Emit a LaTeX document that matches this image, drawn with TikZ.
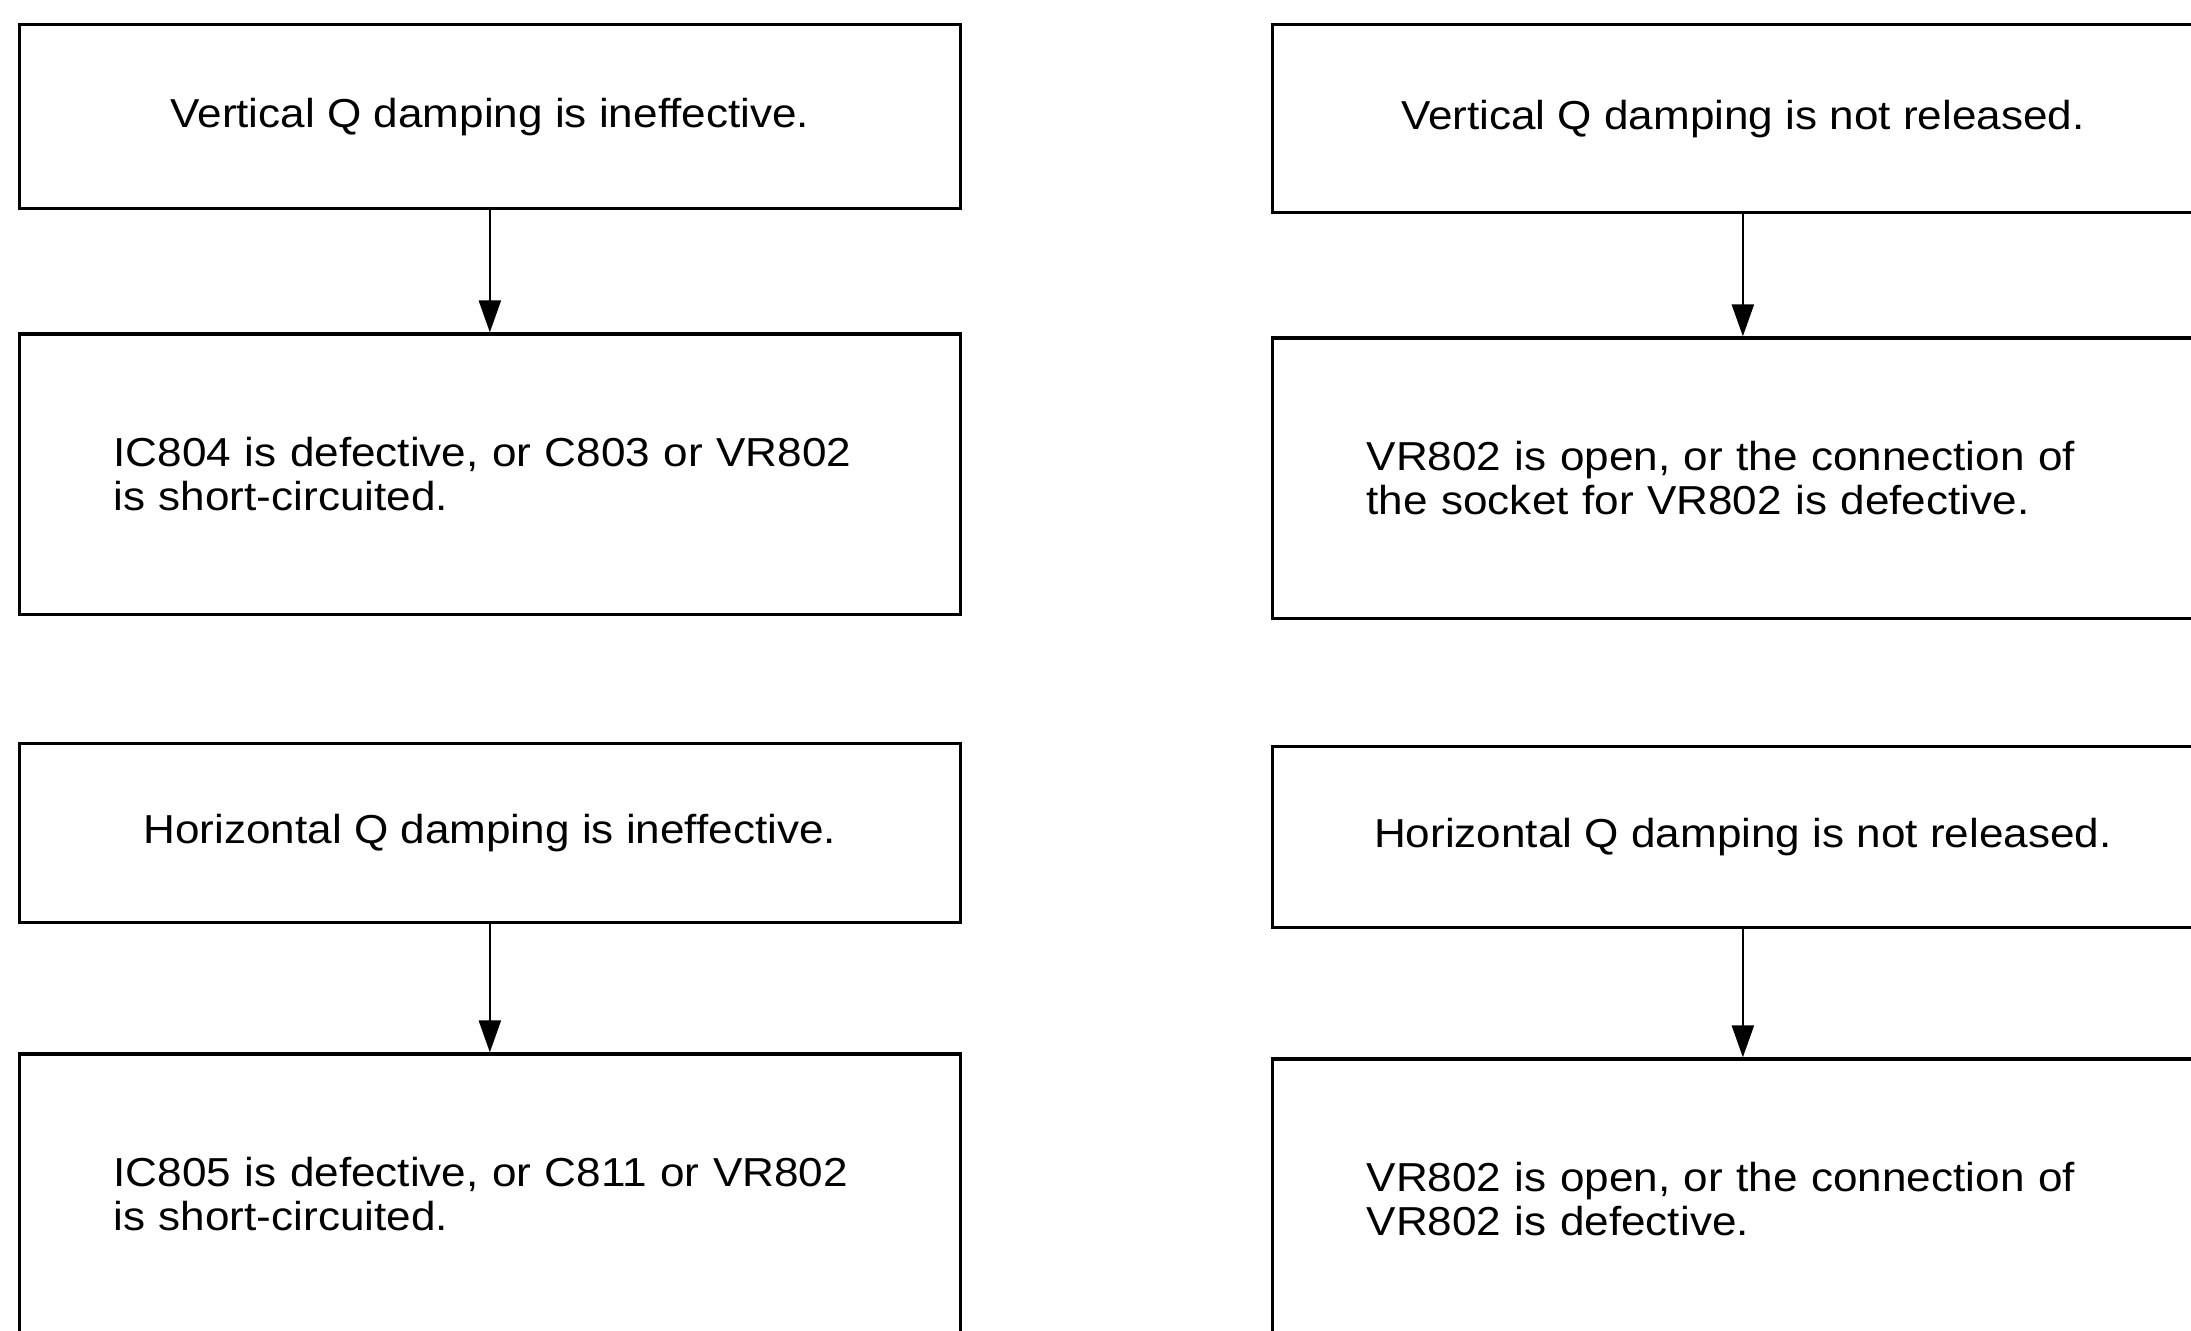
\documentclass[tikz,border=0pt]{standalone}
\usepackage{fontspec}
\setmainfont[FakeStretch=1.09]{Liberation Sans}
\usetikzlibrary{arrows.meta,positioning}

\begin{document}
\begin{tikzpicture}[x=0.01cm, y=-0.01cm,
        every node/.style={font=\fontsize{11.5}{12.3}\selectfont},
        topbox/.style={draw, rectangle, line width=0.9pt, minimum width=9.4cm, minimum height=1.84cm, align=center, inner sep=0pt},
        causebox/.style={draw, rectangle, line width=0.9pt, text width=7.52cm, inner xsep=0.94cm, minimum height=2.8cm, align=left},
        flow/.style={line width=0.7pt, -{Triangle[length=3.2mm, width=2.2mm]}}
      ]
        % feste Bildgroesse (Kaesten laufen rechts und unten ueber den Rand)
        \useasboundingbox (0,0) rectangle (2191,1330);

        % linke Spalte
        \node[topbox, anchor=north west] (vq1) at (18,23) {Vertical Q damping is ineffective.};
        \node[causebox, below=1.22cm of vq1] (vq2) {IC804 is defective, or C803 or VR802\\is short-circuited.};
        \node[topbox, anchor=north west, minimum height=1.79cm] (hq1) at (18,742) {Horizontal Q damping is ineffective.};
        \node[causebox, below=1.28cm of hq1] (hq2) {IC805 is defective, or C811 or VR802\\is short-circuited.};

        % rechte Spalte
        \node[topbox, anchor=north west, minimum height=1.88cm] (vr1) at (1271,23) {Vertical Q damping is not released.};
        \node[causebox, below=1.22cm of vr1] (vr2) {VR802 is open, or the connection of\\the socket for VR802 is defective.};
        \node[topbox, anchor=north west, minimum height=1.81cm] (hr1) at (1271,745) {Horizontal Q damping is not released.};
        \node[causebox, below=1.28cm of hr1] (hr2) {VR802 is open, or the connection of\\VR802 is defective.};

        % Pfeile
        \draw[flow] (vq1) -- (vq2);
        \draw[flow] (hq1) -- (hq2);
        \draw[flow] (vr1) -- (vr2);
        \draw[flow] (hr1) -- (hr2);
      \end{tikzpicture}
\end{document}
